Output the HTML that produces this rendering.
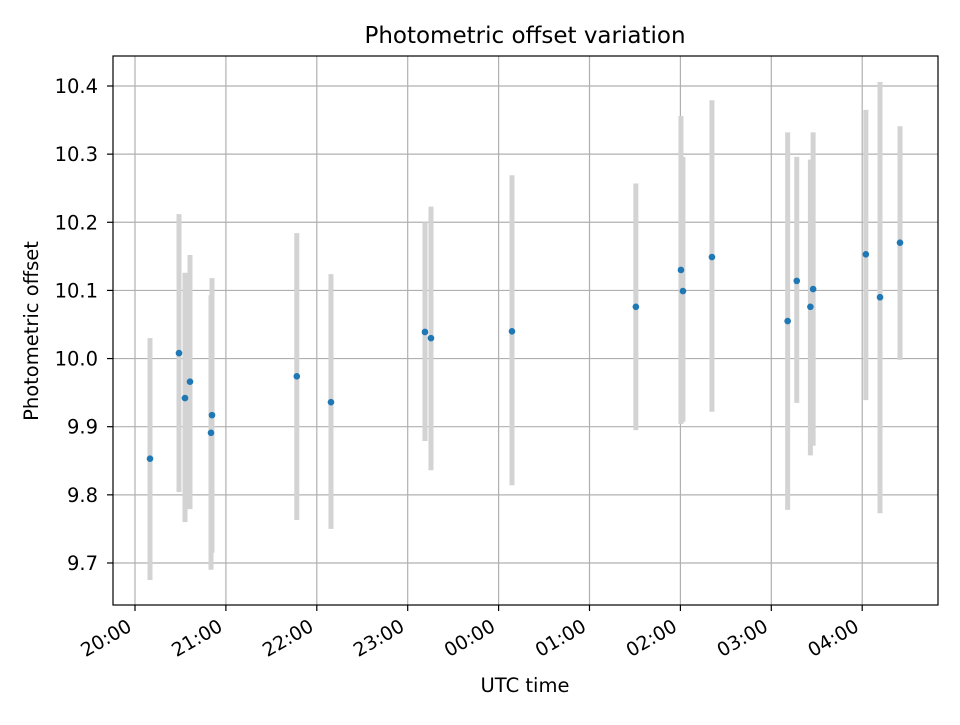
<!DOCTYPE html>
<html><head><meta charset="utf-8"><style>
body{margin:0;background:#fff;}
svg text{font-family:"DejaVu Sans","Liberation Sans",sans-serif;fill:#000;}
</style></head><body>
<svg id="chart" width="960" height="720" xmlns="http://www.w3.org/2000/svg">
<rect width="960" height="720" fill="#fff"/>
<g id="grid"></g><g id="bars"></g><g id="pts"></g><g id="axes"></g>
<text x="525" y="43" font-size="23" text-anchor="middle">Photometric offset variation</text>
<text x="525" y="692" font-size="19.5" text-anchor="middle">UTC time</text>
<text transform="translate(38,331) rotate(-90)" font-size="19.5" text-anchor="middle">Photometric offset</text>
</svg>
<script>
// hours after 20:00 UTC
const times=[0.165,0.484,0.55,0.605,0.836,0.847,1.78,2.156,3.19,3.256,4.147,5.51,6.006,6.028,6.347,7.18,7.28,7.43,7.46,8.04,8.196,8.416];
const offsets=[9.853,10.008,9.942,9.966,9.891,9.917,9.974,9.936,10.039,10.030,10.040,10.076,10.130,10.099,10.149,10.055,10.114,10.076,10.102,10.153,10.090,10.170];
const upper=[10.030,10.212,10.126,10.152,10.093,10.118,10.184,10.124,10.200,10.223,10.269,10.257,10.356,10.296,10.379,10.332,10.296,10.292,10.332,10.365,10.406,10.341];
const lower=[9.675,9.804,9.760,9.779,9.690,9.715,9.763,9.750,9.879,9.836,9.814,9.895,9.904,9.907,9.922,9.778,9.935,9.858,9.872,9.939,9.773,9.998];
const yTicks=[9.7,9.8,9.9,10.0,10.1,10.2,10.3,10.4];
const xTickHours=[0,1,2,3,4,5,6,7,8];
const xTickLabels=["20:00","21:00","22:00","23:00","00:00","01:00","02:00","03:00","04:00"];

const L=113,R=938,T=56,B=605;
const x=h=>135+h*90.9;
const y=v=>86+(10.4-v)*681.4;
const NS="http://www.w3.org/2000/svg";
function mk(parent,tag,attrs){const e=document.createElementNS(NS,tag);for(const k in attrs)e.setAttribute(k,attrs[k]);document.getElementById(parent).appendChild(e);return e;}

xTickHours.forEach((h,i)=>{
  const g=mk('grid','line',{x1:x(h),x2:x(h),y1:T,y2:B,stroke:'#b0b0b0','stroke-width':1.2});
  
  
  const t=mk('axes','line',{x1:x(h),x2:x(h),y1:B,y2:B+6,stroke:'#000','stroke-width':1.2});
  
  
  const ax=x(h)-2, ay=B+25;
  const lb=mk('axes','text',{x:ax,y:ay,'font-size':19,'text-anchor':'end',transform:`rotate(-30 ${ax} ${ay})`});
  lb.textContent=xTickLabels[i];
  
  
});
yTicks.forEach(v=>{
  const g=mk('grid','line',{x1:L,x2:R,y1:y(v),y2:y(v),stroke:'#b0b0b0','stroke-width':1.2});
  
  
  const t=mk('axes','line',{x1:L-6,x2:L,y1:y(v),y2:y(v),stroke:'#000','stroke-width':1.2});
  
  
  const lb=mk('axes','text',{x:L-15,y:y(v)+7,'font-size':19.5,'text-anchor':'end'});
  lb.textContent=v.toFixed(1);
  
  
});
const fr=mk('axes','rect',{x:L,y:T,width:R-L,height:B-T,fill:'none',stroke:'#000','stroke-width':1.2});



times.forEach((h,i)=>{
  const b=mk('bars','line',{x1:x(h),x2:x(h),y1:y(upper[i]),y2:y(lower[i]),stroke:'#d3d3d3','stroke-width':5});
  
  
  const p=mk('pts','circle',{cx:x(h),cy:y(offsets[i]),r:3.3,fill:'#1f77b4'});
  
  
});
</script>
</body></html>
